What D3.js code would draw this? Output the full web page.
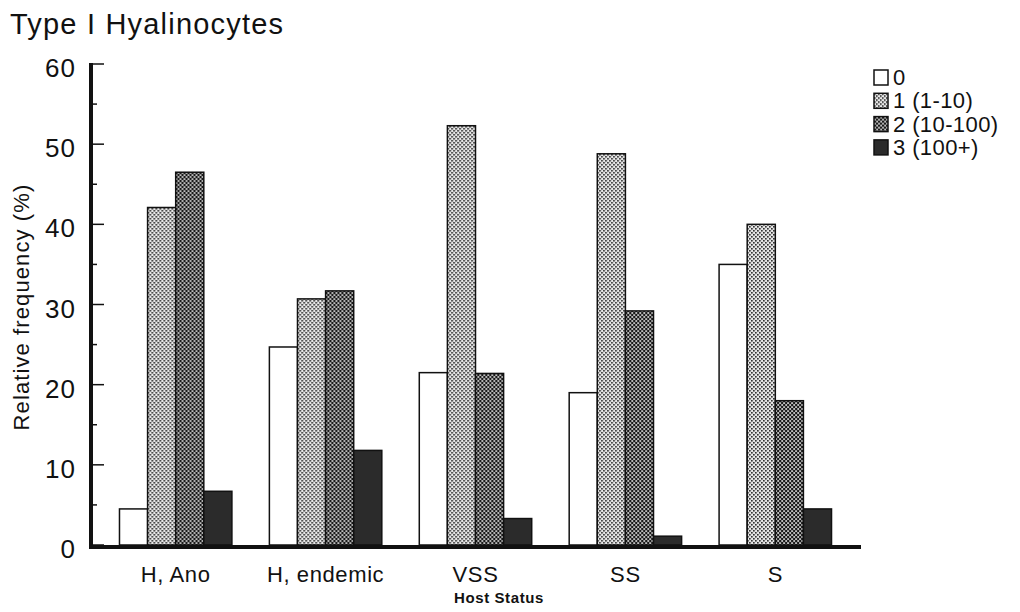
<!DOCTYPE html>
<html>
<head>
<meta charset="utf-8">
<script src="https://cdn.jsdelivr.net/npm/d3@7"></script>
<style>
  body { margin: 0; background: #fff; }
  svg { font-family: "Liberation Sans", Arial, Helvetica, sans-serif; }
</style>
</head>
<body>
<div id="chart"></div>
<script>
// Data
const categories = ['H, Ano', 'H, endemic', 'VSS', 'SS', 'S'];
const seriesNames = ['0', '1 (1-10)', '2 (10-100)', '3 (100+)'];
const score0 = [4.5, 24.7, 21.5, 19.0, 35.0];
const score1 = [42.1, 30.7, 52.3, 48.8, 40.0];
const score2 = [46.5, 31.7, 21.4, 29.2, 18.0];
const score3 = [6.7, 11.8, 3.3, 1.1, 4.5];
const yTicks = [0, 10, 20, 30, 40, 50, 60];

const seriesValues = [score0, score1, score2, score3];
const fills = ['#ffffff', 'url(#dotLight)', 'url(#dotDark)', '#2b2b2b'];

const width = 1020, height = 612;
const margin = { left: 91, right: 160, top: 64, bottom: 67 };

const svg = d3.select('#chart')
    .append('svg')
    .attr('width', width)
    .attr('height', height);

// Stipple patterns for the two shaded series
const defs = svg.append('defs');
const light = defs.append('pattern')
    .attr('id', 'dotLight')
    .attr('patternUnits', 'userSpaceOnUse')
    .attr('width', 4).attr('height', 4);
light.append('rect').attr('width', 4).attr('height', 4).attr('fill', '#e8e8e8');
light.append('rect').attr('x', 0).attr('y', 0).attr('width', 1.6).attr('height', 1.6).attr('fill', '#222');
light.append('rect').attr('x', 2).attr('y', 2).attr('width', 1.6).attr('height', 1.6).attr('fill', '#222');

const dark = defs.append('pattern')
    .attr('id', 'dotDark')
    .attr('patternUnits', 'userSpaceOnUse')
    .attr('width', 4).attr('height', 4);
dark.append('rect').attr('width', 4).attr('height', 4).attr('fill', '#bdbdbd');
dark.append('rect').attr('x', 0).attr('y', 0).attr('width', 2.2).attr('height', 2.2).attr('fill', '#1a1a1a');
dark.append('rect').attr('x', 2).attr('y', 2).attr('width', 2.2).attr('height', 2.2).attr('fill', '#1a1a1a');

// Scales
const x0 = d3.scaleBand()
    .domain(categories)
    .range([margin.left, 860])
    .paddingInner(0.25)
    .paddingOuter(0.19);

const x1 = d3.scaleBand()
    .domain(seriesNames)
    .range([0, x0.bandwidth()])
    .padding(0);

const y = d3.scaleLinear()
    .domain([0, 60])
    .range([545, 64]);

// Bars
const groups = svg.append('g')
    .selectAll('g')
    .data(categories)
    .join('g')
    .attr('transform', d => `translate(${x0(d)},0)`);

groups.selectAll('rect')
    .data((d, i) => seriesNames.map((s, j) => ({ series: s, idx: j, value: seriesValues[j][i] })))
    .join('rect')
    .attr('x', d => x1(d.series))
    .attr('y', d => y(d.value))
    .attr('width', x1.bandwidth())
    .attr('height', d => y(0) - y(d.value))
    .attr('fill', d => fills[d.idx])
    .attr('stroke', '#111')
    .attr('stroke-width', 1.5);

// Y axis with ticks pointing inward
const yAxis = svg.append('g');
yAxis.append('line')
    .attr('x1', margin.left).attr('x2', margin.left)
    .attr('y1', y(60) - 1).attr('y2', y(0) + 2)
    .attr('stroke', '#111').attr('stroke-width', 4);

yAxis.selectAll('.major')
    .data(yTicks)
    .join('line')
    .attr('class', 'major')
    .attr('x1', margin.left).attr('x2', margin.left + 13)
    .attr('y1', d => y(d)).attr('y2', d => y(d))
    .attr('stroke', '#111').attr('stroke-width', 1.5);

yAxis.selectAll('.minor')
    .data(d3.range(5, 60, 10))
    .join('line')
    .attr('class', 'minor')
    .attr('x1', margin.left).attr('x2', margin.left + 6)
    .attr('y1', d => y(d)).attr('y2', d => y(d))
    .attr('stroke', '#111').attr('stroke-width', 1.5);

yAxis.selectAll('.tickLabel')
    .data(yTicks)
    .join('text')
    .attr('class', 'tickLabel')
    .attr('x', 76)
    .attr('y', d => y(d) + 13)
    .attr('text-anchor', 'end')
    .style('font-size', '26px')
    .style('letter-spacing', '1px')
    .attr('fill', '#111')
    .text(d => d);

// X axis baseline
svg.append('line')
    .attr('x1', margin.left - 2).attr('x2', 861)
    .attr('y1', y(0) + 2).attr('y2', y(0) + 2)
    .attr('stroke', '#111').attr('stroke-width', 4);

// Category labels
svg.append('g')
    .selectAll('text')
    .data(categories)
    .join('text')
    .attr('x', d => x0(d) + x0.bandwidth() / 2)
    .attr('y', 582)
    .attr('text-anchor', 'middle')
    .style('font-size', '22px')
    .style('letter-spacing', '0.6px')
    .attr('fill', '#111')
    .text(d => d);

// Axis titles
svg.append('text')
    .attr('x', 499).attr('y', 603)
    .attr('text-anchor', 'middle')
    .style('font-size', '15px')
    .style('font-weight', 'bold')
    .style('letter-spacing', '0.6px')
    .attr('fill', '#111')
    .text('Host Status');

svg.append('text')
    .attr('transform', 'translate(29,307) rotate(-90)')
    .attr('text-anchor', 'middle')
    .style('font-size', '22px')
    .style('letter-spacing', '1.1px')
    .attr('fill', '#111')
    .text('Relative frequency (%)');

svg.append('text')
    .attr('x', 10).attr('y', 34)
    .style('font-size', '29px')
    .style('letter-spacing', '1.2px')
    .attr('fill', '#111')
    .text('Type I Hyalinocytes');

// Legend
const legend = svg.append('g')
    .selectAll('g')
    .data(seriesNames)
    .join('g')
    .attr('transform', (d, i) => `translate(874,${70 + i * 23.3})`);

legend.append('rect')
    .attr('width', 14).attr('height', 15)
    .attr('fill', (d, i) => fills[i])
    .attr('stroke', '#111')
    .attr('stroke-width', 1.5);

legend.append('text')
    .attr('x', 19).attr('y', 15)
    .style('font-size', '22px')
    .style('letter-spacing', '0.4px')
    .attr('fill', '#111')
    .text(d => d);
</script>
</body>
</html>
